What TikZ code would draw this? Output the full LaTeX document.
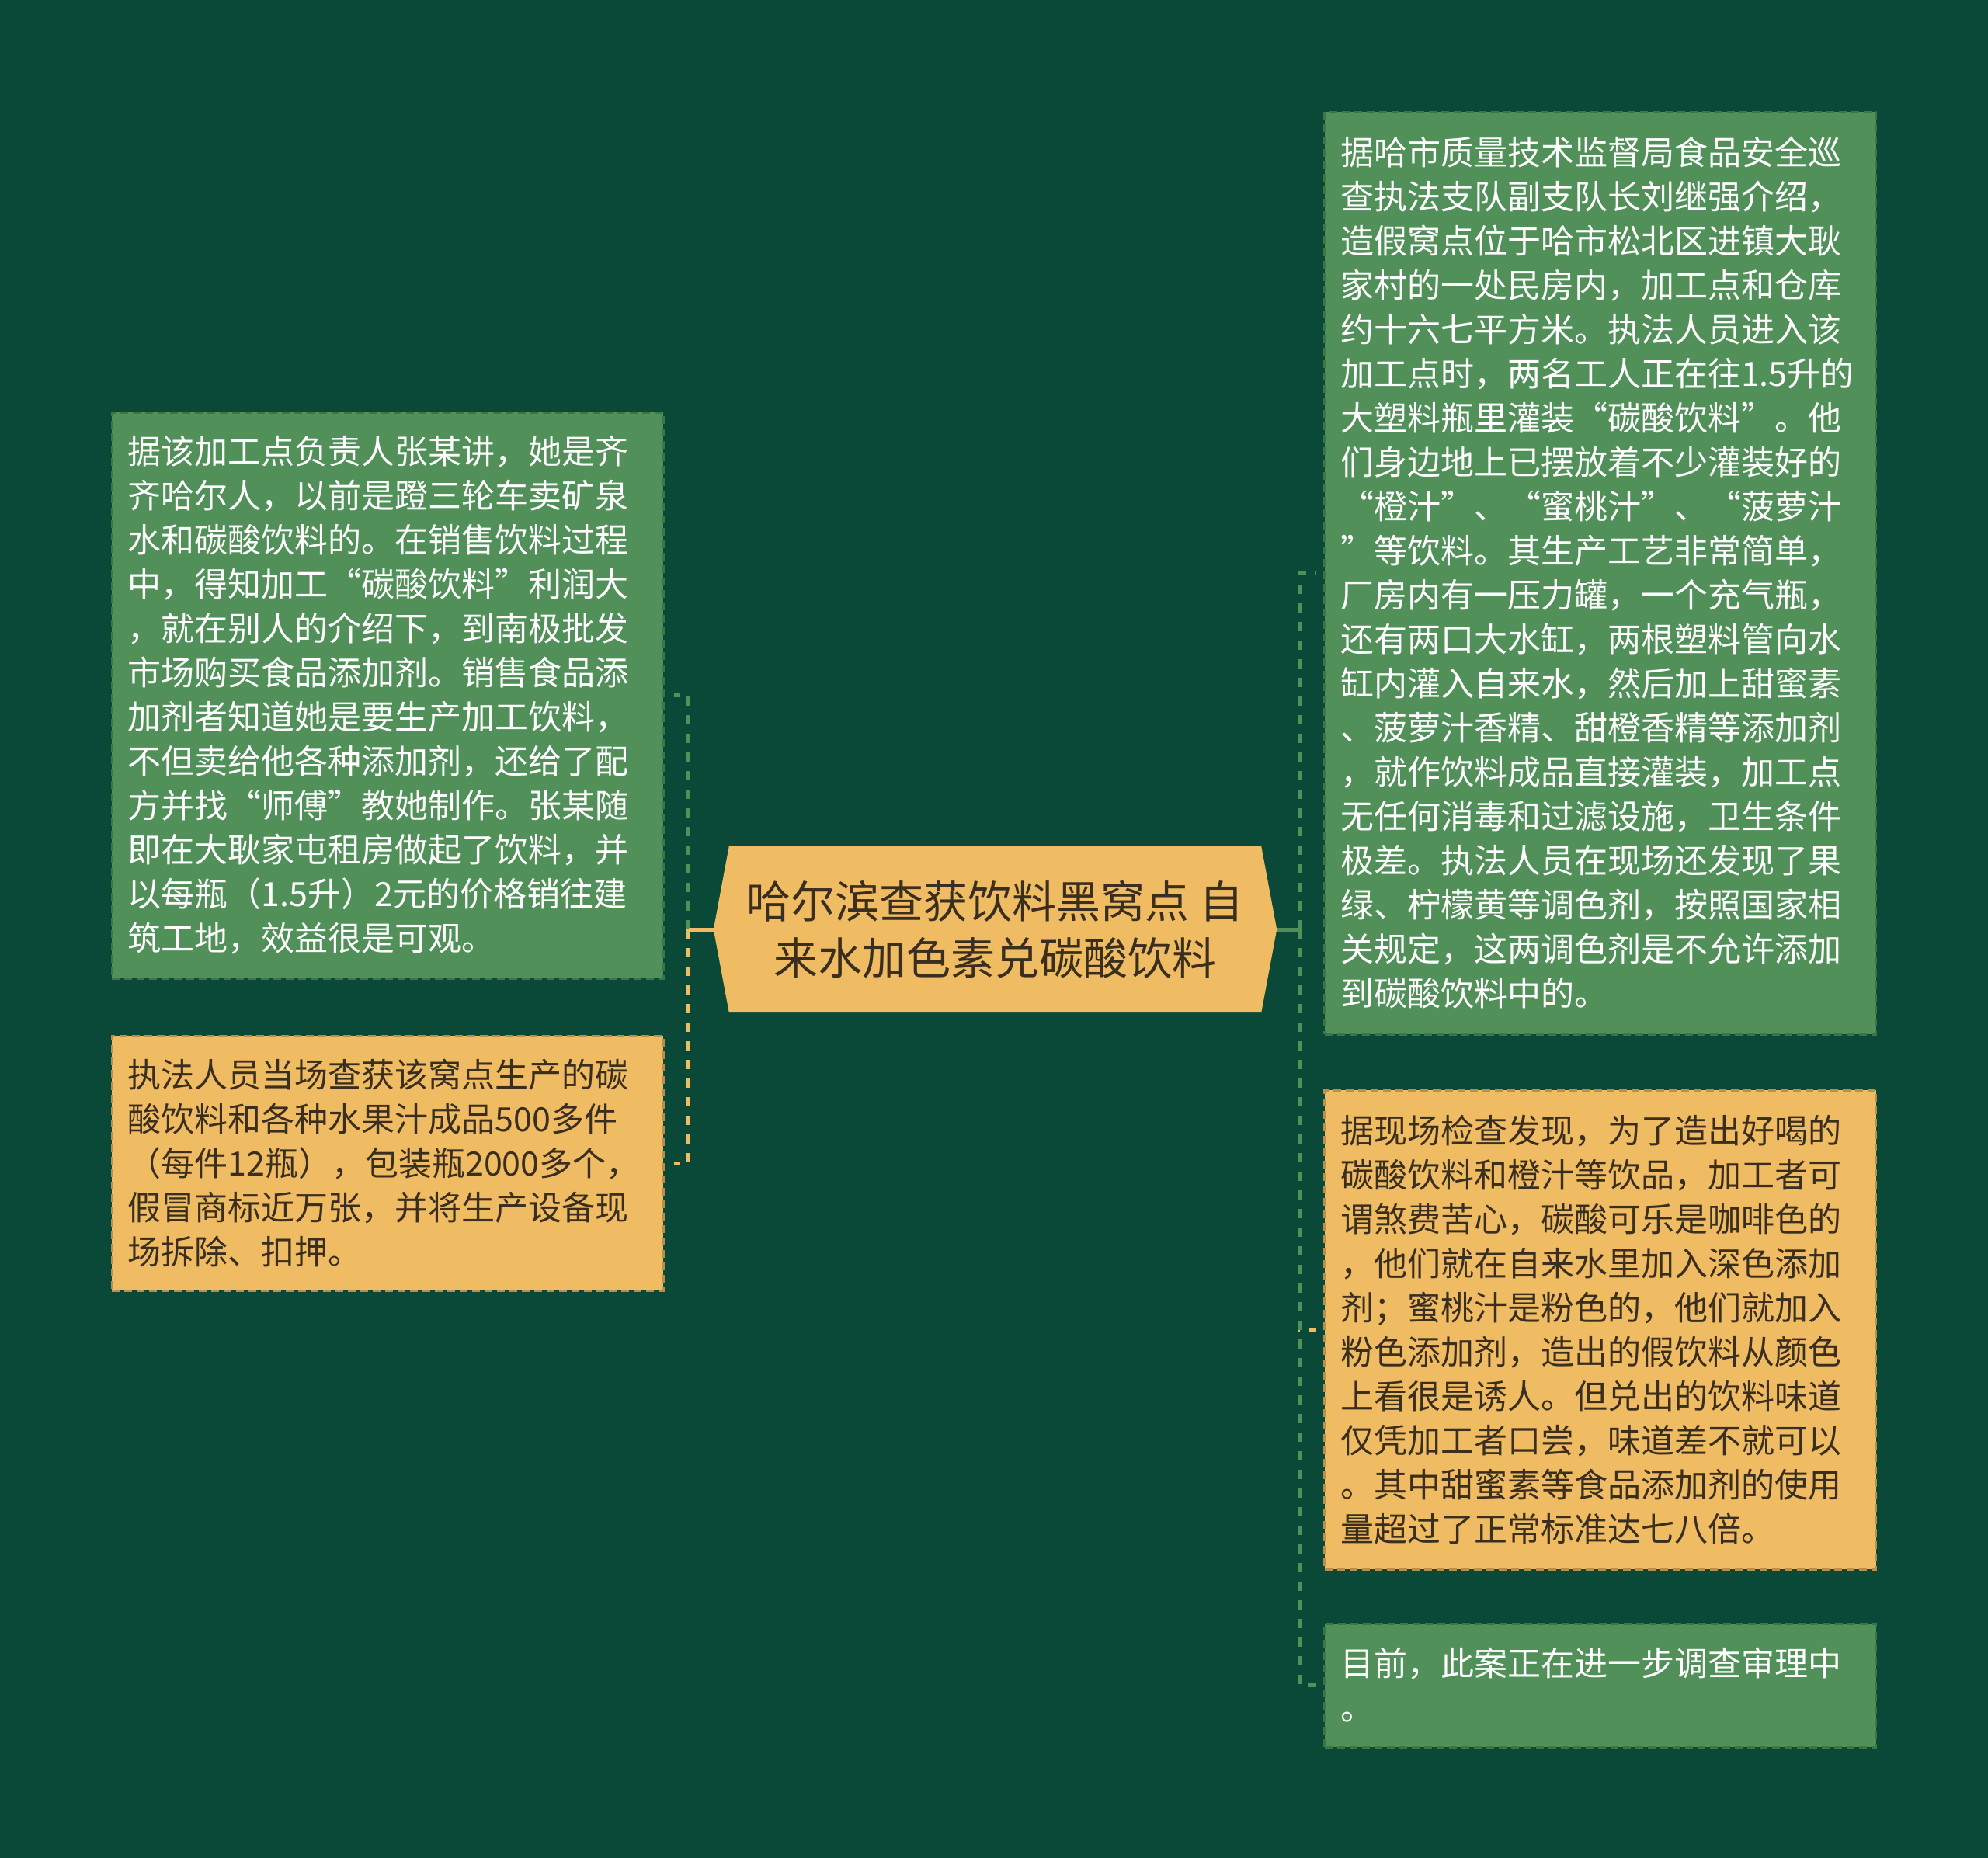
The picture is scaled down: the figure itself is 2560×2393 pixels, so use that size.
\documentclass[tikz,border=0pt]{standalone}
\usepackage{fontspec}
\setmainfont{Noto Sans CJK SC}
\usetikzlibrary{calc}
\definecolor{bgc}{HTML}{0A4937}
\definecolor{gbox}{HTML}{519159}
\definecolor{ybox}{HTML}{EFBB63}
\definecolor{gline}{HTML}{3B7646}
\definecolor{yline}{HTML}{B8904C}
\definecolor{dtext}{HTML}{3A2F1E}
\pgfdeclarelayer{bg}
\pgfsetlayers{bg,main}
\begin{document}
\begin{tikzpicture}[x=1pt,y=-1pt,
  box/.style={minimum width=710pt, text width=669pt, inner xsep=20.5pt, inner ysep=0pt,
    align=left, font=\fontsize{43pt}{57pt}\selectfont, draw, line width=3pt,
    dash pattern=on 10pt off 6pt},
  gbx/.style={box, fill=gbox, draw=gline, text=white},
  ybx/.style={box, fill=ybox, draw=yline, text=dtext},
  link/.style={line width=5pt, dash pattern=on 12pt off 12pt},
  stub/.style={line width=5pt},
  titlebox/.style={minimum width=725pt, minimum height=214pt, inner sep=0pt, align=center,
    text=dtext, font=\fontsize{57pt}{73pt}\selectfont}]
\useasboundingbox (0,0) rectangle (2560,2393);

% central topic
\node[titlebox] (c) at (1281.5,1197) {哈尔滨查获饮料黑窝点 自\\来水加色素兑碳酸饮料};
\begin{pgfonlayer}{bg}
\fill[bgc] (0,0) rectangle (2560,2393);
\fill[ybox] (c.west) -- ($(c.north west)+(20,0)$) -- ($(c.north east)+(-20,0)$) -- (c.east)
  -- ($(c.south east)+(-20,0)$) -- ($(c.south west)+(20,0)$) -- cycle;
\end{pgfonlayer}

% left boxes
\node[gbx, minimum height=729pt] (L1) at (499,895.5) {据该加工点负责人张某讲，她是齐\\
齐哈尔人，以前是蹬三轮车卖矿泉\\
水和碳酸饮料的。在销售饮料过程\\
中，得知加工“碳酸饮料”利润大\\
，就在别人的介绍下，到南极批发\\
市场购买食品添加剂。销售食品添\\
加剂者知道她是要生产加工饮料，\\
不但卖给他各种添加剂，还给了配\\
方并找“师傅”教她制作。张某随\\
即在大耿家屯租房做起了饮料，并\\
以每瓶（1.5升）2元的价格销往建\\
筑工地，效益很是可观。};

\node[ybx, minimum height=328pt] (L2) at (499,1498) {执法人员当场查获该窝点生产的碳\\
酸饮料和各种水果汁成品500多件\\
（每件12瓶），包装瓶2000多个，\\
假冒商标近万张，并将生产设备现\\
场拆除、扣押。};

% right boxes
\node[gbx, minimum height=1188pt] (R1) at (2060.5,738) {据哈市质量技术监督局食品安全巡\\
查执法支队副支队长刘继强介绍，\\
造假窝点位于哈市松北区进镇大耿\\
家村的一处民房内，加工点和仓库\\
约十六七平方米。执法人员进入该\\
加工点时，两名工人正在往1.5升的\\
大塑料瓶里灌装“碳酸饮料”。他\\
们身边地上已摆放着不少灌装好的\\
“橙汁”、“蜜桃汁”、“菠萝汁\\
”等饮料。其生产工艺非常简单，\\
厂房内有一压力罐，一个充气瓶，\\
还有两口大水缸，两根塑料管向水\\
缸内灌入自来水，然后加上甜蜜素\\
、菠萝汁香精、甜橙香精等添加剂\\
，就作饮料成品直接灌装，加工点\\
无任何消毒和过滤设施，卫生条件\\
极差。执法人员在现场还发现了果\\
绿、柠檬黄等调色剂，按照国家相\\
关规定，这两调色剂是不允许添加\\
到碳酸饮料中的。};

\node[ybx, minimum height=617pt] (R2) at (2060.5,1712.5) {据现场检查发现，为了造出好喝的\\
碳酸饮料和橙汁等饮品，加工者可\\
谓煞费苦心，碳酸可乐是咖啡色的\\
，他们就在自来水里加入深色添加\\
剂；蜜桃汁是粉色的，他们就加入\\
粉色添加剂，造出的假饮料从颜色\\
上看很是诱人。但兑出的饮料味道\\
仅凭加工者口尝，味道差不就可以\\
。其中甜蜜素等食品添加剂的使用\\
量超过了正常标准达七八倍。};

\node[gbx, minimum height=159pt] (R3) at (2060.5,2170.5) {目前，此案正在进一步调查审理中\\
。};

% connectors
\coordinate (jl) at ($(c.west)+(-32,0)$);
\coordinate (jr) at ($(c.east)+(29,0)$);

\draw[link, gbox] (jl) |- ([xshift=12pt]L1.east);
\draw[link, ybox] (jl) |- ([xshift=12pt]L2.east);
\draw[stub, ybox] (c.west) -- (jl);

\draw[link, gbox] (jr) |- ([xshift=-9pt]R1.west);
\draw[link, ybox] (jr) |- ([xshift=-9pt]R2.west);
\draw[link, gbox] (jr) |- ([xshift=-9pt]R3.west);
\draw[stub, gbox] (c.east) -- (jr);
\end{tikzpicture}
\end{document}
